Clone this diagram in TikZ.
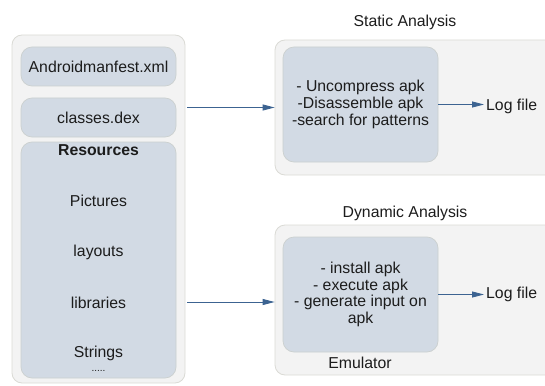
\documentclass[tikz,border=0pt]{standalone}
\usepackage{fontspec}
\setmainfont{Liberation Sans}
\usepackage{tikz}
\usetikzlibrary{arrows.meta, calc, positioning}

\definecolor{outerfill}{HTML}{F3F3F3}
\definecolor{outerline}{HTML}{DADAD5}
\definecolor{innerfill}{HTML}{D2DAE4}
\definecolor{innerline}{HTML}{CBD0CF}
\definecolor{flowblue}{HTML}{3C6391}
\definecolor{txt}{HTML}{1C1C1C}

\begin{document}
\begin{tikzpicture}[x=1pt, y=-1pt,
    every node/.style={font=\fontsize{15.8}{16.7}\selectfont, text=txt},
    outerbox/.style={draw=outerline, fill=outerfill, rounded corners=10pt, line width=0.8pt, inner sep=0pt},
    innerbox/.style={draw=innerline, fill=innerfill, rounded corners=11pt, line width=0.7pt, inner sep=0pt, align=center},
    flow/.style={-{Triangle[length=12pt, width=6pt]}, draw=flowblue, line width=0.9pt}]

                \useasboundingbox (0,0) rectangle (545,385);
                \clip (0,0) rectangle (545,385);

                % apk contents
                \node[outerbox, minimum width=173pt, minimum height=348pt] (apk) at (98.5, 209) {};
                \node[innerbox, minimum width=155pt, minimum height=39pt] (manifest) at (98.5, 66.5) {Androidmanfest.xml};
                \node[innerbox, minimum width=155pt, minimum height=39pt] (dex) at (98.5, 117.5) {classes.dex};
                \node[innerbox, minimum width=155pt, minimum height=236pt] (res) at (98.5, 260) {};

                \node[font=\fontsize{15.8}{16.7}\selectfont\bfseries] (restitle) at (98.5, 150) {Resources};
                \node (pictures) at (98.5, 201) {Pictures};
                \node (layouts) at (98.5, 252) {layouts};
                \node (libraries) at (98.5, 303) {libraries};
                \node (strings) at (98.5, 353) {Strings};
                \node[font=\fontsize{10}{10}\selectfont] (more) at (98.5, 371) {.....};

                % static analysis
                \node (statictitle) at (405, 22) {Static Analysis};
                \node[outerbox, minimum width=290pt, minimum height=135pt] (static) at (420, 107.5) {};
                \node[innerbox, minimum width=155pt, minimum height=115pt] (staticsteps) at (360.5, 104.5)
                    {- Uncompress apk\\-Disassemble apk\\-search for patterns};
                \node[inner sep=2pt, anchor=west] (staticlog) at (484, 106) {Log file};

                % dynamic analysis
                \node (dynamictitle) at (405, 213) {Dynamic Analysis};
                \node[outerbox, minimum width=290pt, minimum height=150pt] (dynamic) at (420, 300) {};
                \node[innerbox, minimum width=155pt, minimum height=115pt] (dynamicsteps) at (360.5, 294.5)
                    {- install apk\\- execute apk\\- generate input on\\apk};
                \node[inner sep=2pt, anchor=west] (dynamiclog) at (484, 294) {Log file};
                \node (emulator) at (360, 363) {Emulator};

                % arrows
                \draw[flow] (static.west -| apk.east) ++(2,0) -- (static.west);
                \draw[flow] ($ (dynamic.west -| apk.east) + (2,2) $) -- ($ (dynamic.west) + (0,2) $);
                \draw[flow] (staticsteps.east) -- (staticsteps.east -| staticlog.west);
                \draw[flow] (dynamicsteps.east) -- (dynamicsteps.east -| dynamiclog.west);

\end{tikzpicture}
\end{document}
